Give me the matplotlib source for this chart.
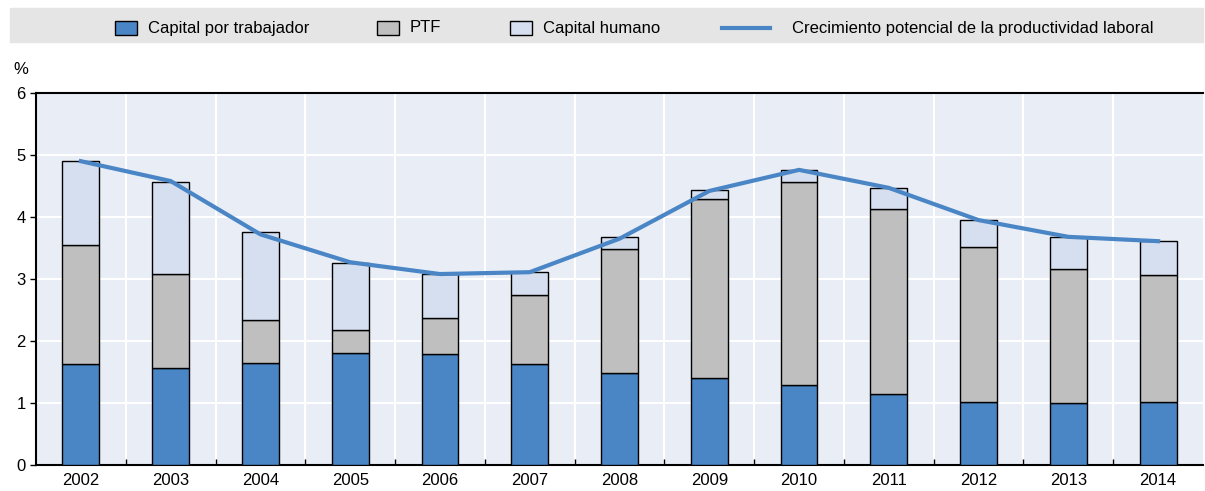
import matplotlib.pyplot as plt
import numpy as np
from matplotlib.patches import Rectangle

plt.rcParams['font.family'] = ['Liberation Sans Narrow', 'Liberation Sans', 'DejaVu Sans']

years = ['2002', '2003', '2004', '2005', '2006', '2007', '2008',
         '2009', '2010', '2011', '2012', '2013', '2014']
capital_trab = [1.63, 1.56, 1.65, 1.81, 1.79, 1.63, 1.48, 1.40, 1.29, 1.15, 1.02, 1.00, 1.02]
ptf = [1.92, 1.52, 0.69, 0.37, 0.58, 1.11, 2.00, 2.89, 3.27, 2.98, 2.50, 2.16, 2.04]
capital_hum = [1.35, 1.48, 1.42, 1.08, 0.71, 0.37, 0.20, 0.15, 0.20, 0.34, 0.43, 0.52, 0.55]
crecimiento = [4.90, 4.58, 3.72, 3.27, 3.08, 3.11, 3.65, 4.42, 4.76, 4.47, 3.95, 3.68, 3.61]

c_blue = '#4a86c5'
c_grey = '#bfbfbf'
c_light = '#d5dff0'
c_line = '#4a86c5'

fig = plt.figure(figsize=(12.05, 4.91), dpi=100)
ax = fig.add_axes([36 / 1205, 26 / 491, 1167 / 1205, 372 / 491])
ax.set_facecolor('#e9edf6')

x = np.arange(len(years))
w = 0.41
b1 = np.array(capital_trab)
b2 = b1 + np.array(ptf)
ax.bar(x, capital_trab, w, color=c_blue, edgecolor='black', linewidth=1, zorder=3)
ax.bar(x, ptf, w, bottom=b1, color=c_grey, edgecolor='black', linewidth=1, zorder=3)
ax.bar(x, capital_hum, w, bottom=b2, color=c_light, edgecolor='black', linewidth=1, zorder=3)
ax.plot(x, crecimiento, color=c_line, linewidth=3, zorder=4)

ax.set_xlim(-0.5, len(years) - 0.5)
ax.set_ylim(0, 6)
ax.set_yticks(range(7))
ax.set_xticks(x)
ax.set_xticklabels(years)
ax.set_xticks(np.arange(0.5, len(years) - 1, 1), minor=True)
ax.tick_params(axis='x', which='major', length=0, labelsize=12, pad=6)
ax.tick_params(axis='x', which='minor', length=4, direction='in', width=1)
ax.tick_params(axis='y', length=4, labelsize=12, width=1)

ax.grid(axis='y', color='white', linewidth=1.5, zorder=0)
ax.grid(axis='x', which='minor', color='white', linewidth=1.5, zorder=0)
ax.set_axisbelow(True)
for s in ['left', 'bottom', 'top']:
    ax.spines[s].set_linewidth(1.5)
    ax.spines[s].set_color('black')
ax.spines['right'].set_visible(False)

fig.text(13 / 1205, 1 - 70 / 491, '%', fontsize=12, va='center')

# legend strip
fig.patches.append(Rectangle((10 / 1205, 1 - 42 / 491), 1193 / 1205, 34 / 491,
                             transform=fig.transFigure, color='#e5e5e5', zorder=0))
ly = 1 - 28 / 491
items = [(115, 'patch', c_blue, 'Capital por trabajador'),
         (377, 'patch', c_grey, 'PTF'),
         (510, 'patch', c_light, 'Capital humano'),
         (722, 'line', c_line, 'Crecimiento potencial de la productividad laboral')]
for px, kind, col, lab in items:
    if kind == 'patch':
        fig.patches.append(Rectangle((px / 1205, ly - 7 / 491), 22 / 1205, 14 / 491,
                                     transform=fig.transFigure, facecolor=col,
                                     edgecolor='black', linewidth=1, zorder=1))
        tx = px + 33
    else:
        fig.add_artist(plt.Line2D([px / 1205, (px + 48) / 1205], [ly, ly],
                                  transform=fig.transFigure, color=col, linewidth=3))
        tx = px + 70
    fig.text(tx / 1205, ly, lab, fontsize=12, va='center')

fig.savefig('out.png', dpi=100)
